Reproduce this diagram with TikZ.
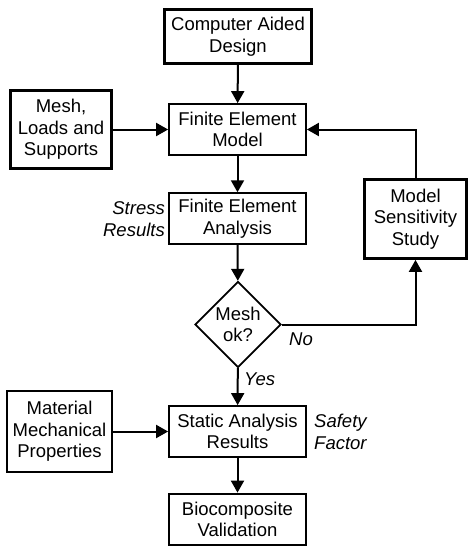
\documentclass[tikz,border=0pt]{standalone}
\usepackage{fontspec}
\setmainfont{Liberation Sans}
\usepackage{tikz}
\usetikzlibrary{arrows.meta,shapes.geometric}

\begin{document}
\begin{tikzpicture}[x=1pt, y=-1pt, >={Triangle[length=12pt,width=13pt]},
    every node/.style={font=\fontsize{18.5}{21.5}\selectfont, align=center},
    box/.style={draw, line width=1.8pt, rectangle, minimum width=137pt, minimum height=51pt, inner sep=2pt},
    heavybox/.style={box, line width=2.8pt},
    decision/.style={draw, line width=1.8pt, diamond, minimum width=86pt, minimum height=86pt, inner sep=0pt},
    note/.style={font=\fontsize{18.5}{21.5}\itshape, inner sep=0pt},
    link/.style={->, line width=2pt}]
    \useasboundingbox (0,0) rectangle (476,557);

    \node[heavybox, minimum width=147pt, minimum height=54pt] (cad) at (238,36.5) {Computer Aided\\Design};
    \node[heavybox, minimum width=101pt, minimum height=78pt] (mesh) at (61,129.5) {Mesh,\\Loads and\\Supports};
    \node[box] (fem) at (237.5,129.5) {Finite Element\\Model};
    \node[box, line width=1.5pt] (fea) at (237.5,218.5) {Finite Element\\Analysis};
    \node[heavybox, minimum width=102pt, minimum height=79pt] (mss) at (415.5,219) {Model\\Sensitivity\\Study};
    \node[decision] (ok) at (238,324.5) {Mesh\\ok?};
    \node[box, line width=1.6pt, minimum width=105pt, minimum height=81pt] (mat) at (59.5,431.5) {Material\\Mechanical\\Properties};
    \node[box] (sar) at (237.5,431.5) {Static Analysis\\Results};
    \node[heavybox] (bio) at (237.5,519.5) {Biocomposite\\Validation};

    \node[note, anchor=east, align=right] (stress) at (165,219) {Stress\\Results};
    \node[note, anchor=west, align=left] (safety) at (314,432) {Safety\\Factor};
    \node[note, anchor=west] (no) at (289,339) {No};
    \node[note, anchor=west] (yes) at (244,379) {Yes};

    \draw[link] (cad) -- (fem);
    \draw[link] (mesh) -- (fem);
    \draw[link] (fem) -- (fea);
    \draw[link] (fea) -- (ok);
    \draw[link] (ok) -- (sar);
    \draw[link] (mat) -- (sar);
    \draw[link] (sar) -- (bio);
    \draw[link] (ok.east) -| (mss.south);
    \draw[link] (mss.north) |- (fem.east);
\end{tikzpicture}
\end{document}
